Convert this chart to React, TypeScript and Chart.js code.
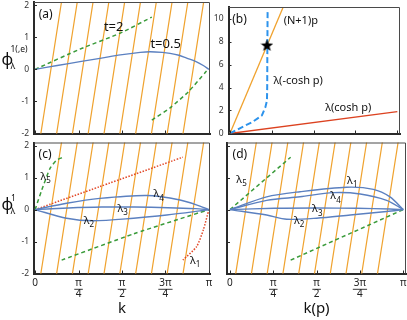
import React, { useEffect, useRef } from 'react';
import { Chart, registerables } from 'chart.js';
Chart.register(...registerables);

const W = 407;
const H = 320;
const PI = Math.PI;
const FONT = "'Noto Sans', 'DejaVu Sans', sans-serif";

// ---------- tick values / labels ----------
const kTickValues = [0, PI / 4, PI / 2, (3 * PI) / 4, PI];
const kTickLabels: (string | string[])[] = ['0', ['π', '4'], ['π', '2'], ['3π', '4'], 'π'];
const phiTickValues = [-2, -1, 0, 1, 2];
const phiTickLabels = ['-2', '-1', '0', '1', '2'];
const lamTickValues = [0, 2, 4, 6, 8, 10];
const lamTickLabels = ['0', '2', '4', '6', '8', '10'];

// ---------- orange quantisation lines: slope (N+1) and zero crossings ----------
const orangeSlope = 11;
const orangeZeroK = [0.286, 0.571, 0.857, 1.142, 1.428, 1.714, 2.0, 2.285, 2.57, 2.856];

// ---------- panel (a) ----------
const aBlueK = [0, 0.4, 0.81, 1.2, 1.54, 1.9, 2.08, 2.3, 2.44, 2.6, 2.74, 2.9, 3.04, PI];
const aBluePhi = [0, 0.12, 0.24, 0.35, 0.45, 0.53, 0.55, 0.53, 0.5, 0.44, 0.35, 0.25, 0.12, 0];
const aGreenUpK = [0, 0.81, 1.54, 2.11];
const aGreenUpPhi = [0, 0.63, 1.13, 1.63];
const aGreenLoK = [2.11, 2.44, 2.77, 3.09, PI];
const aGreenLoPhi = [-1.58, -1.2, -0.7, -0.07, 0];

// ---------- panel (b) ----------
const bOrangeP = [0, 1.0];
const bOrangeLam = [0, 11];
const bRedP = [0, PI];
const bRedLam = [0, 1.9];
const bBlueP = [0, 0.24, 0.42, 0.6, 0.665, 0.695, 0.7, 0.702, 0.707];
const bBlueLam = [0, 0.58, 1.0, 1.57, 2.28, 2.85, 4.26, 7.1, 10.64];
const bStarP = [0.695];
const bStarLam = [7.66];

// ---------- panel (c) ----------
const cGreenUpK = [0, 0.12, 0.27, 0.39, 0.51];
const cGreenUpPhi = [0, 0.61, 1.29, 1.55, 1.64];
const cGreenLoK = [0.48, 1.78, PI];
const cGreenLoPhi = [-1.58, -0.76, 0];
const cRedUpK = [0, 1.17, 2.67];
const cRedUpPhi = [0, 0.72, 1.64];
const cRedLoK = [2.67, 2.92, 3.04, PI];
const cRedLoPhi = [-1.58, -1.16, -0.64, 0];
const cL4K = [0, 0.57, 1.17, 2.02, 2.62, 2.98, PI];
const cL4Phi = [0, 0.2, 0.35, 0.44, 0.3, 0.11, 0];
const cL3K = [0, 0.6, 1.2, 1.8, 2.4, 2.9, PI];
const cL3Phi = [0, 0.05, 0.08, 0.08, 0.06, 0.03, 0];
const cL2K = [0, 0.57, 1.05, 1.78, 2.38, 2.98, PI];
const cL2Phi = [0, -0.27, -0.35, -0.27, -0.17, -0.04, 0];

// ---------- panel (d) ----------
const dGreenUpK = [0, 1.1];
const dGreenUpPhi = [0, 1.64];
const dGreenLoK = [1.1, PI];
const dGreenLoPhi = [-1.58, 0];
const dL1K = [0, 0.665, 1.27, 2.115, 2.6, 2.9, PI];
const dL1Phi = [0, 0.4, 0.56, 0.7, 0.635, 0.4, 0];
const dL4K = [0, 0.665, 1.27, 1.87, 2.36, 2.84, PI];
const dL4Phi = [0, 0.29, 0.4, 0.53, 0.49, 0.29, 0];
const dL3K = [0, 0.8, 1.57, 2.3, 2.9, PI];
const dL3Phi = [0, 0.04, 0.05, 0.04, 0.02, 0];
const dL2K = [0, 0.665, 1.03, 1.57, 2.18, 2.84, PI];
const dL2Phi = [0, -0.17, -0.3, -0.27, -0.17, -0.06, 0];

// ---------- styles ----------
const ORANGE = '#f0a22e';
const BLUE = '#5b80c0';
const GREEN = '#3a9b3a';
const RED = '#e24a2a';
const RED_SOLID = '#dc4220';
const BLUE_DASH = '#2d93ec';
const AXIS = '#2a2a2a';
const TEXT = '#111';
const X_TICK_PAD = 4.5;
const X_TICK_SIZE = 10;
const X_TICK_LH = 1.08;

type Pt = { x: number; y: number };
const zip = (xs: number[], ys: number[]): Pt[] => xs.map((x, i) => ({ x, y: ys[i] }));

function ln(data: Pt[], color: string, width: number, dash: number[] = [], order = 0, tension = 0.3) {
  return {
    data,
    showLine: true,
    borderColor: color,
    backgroundColor: color,
    borderWidth: width,
    borderDash: dash,
    pointRadius: 0,
    pointHoverRadius: 0,
    tension,
    order,
    fill: false,
  };
}

function orangeLines(yMin: number, yMax: number) {
  return orangeZeroK.map((k0) =>
    ln(
      [
        { x: k0 + (yMin - 0.3) / orangeSlope, y: yMin - 0.3 },
        { x: k0 + (yMax + 0.3) / orangeSlope, y: yMax + 0.3 },
      ],
      ORANGE,
      1.2,
      [],
      10,
      0
    )
  );
}

interface Lbl { k: number; v: number; text: string; size: number; sub?: string }
interface TitlePart { x: number; y: number; text: string; size: number }

interface Panel {
  left: number; right: number; top: number; bottom: number;
  xMin: number; xMax: number; yMin: number; yMax: number;
  xTickText: (string | string[])[] | null;
  xTitle: string | null;
  yTickValues: number[];
  yTickText: string[] | null;
  datasets: () => any[];
  labels: Lbl[];
  yTitle: TitlePart[];
}

function makeStar(): HTMLCanvasElement {
  const c = document.createElement('canvas');
  c.width = 13; c.height = 13;
  const g = c.getContext('2d')!;
  g.fillStyle = '#000';
  g.beginPath();
  for (let i = 0; i < 10; i++) {
    const r = i % 2 === 0 ? 6.5 : 2.7;
    const a = -PI / 2 + (i * PI) / 5;
    const x = 6.5 + r * Math.cos(a);
    const y = 6.8 + r * Math.sin(a);
    if (i === 0) g.moveTo(x, y); else g.lineTo(x, y);
  }
  g.closePath();
  g.fill();
  return c;
}

const PANELS: Panel[] = [
  {
    left: 34, right: 210, top: 2, bottom: 133.5,
    xMin: -0.02, xMax: PI + 0.02, yMin: -2, yMax: 2.1,
    xTickText: null, xTitle: null,
    yTickValues: phiTickValues, yTickText: phiTickLabels,
    datasets: () => [
      ln(zip(aBlueK, aBluePhi), BLUE, 1.4),
      ln(zip(aGreenUpK, aGreenUpPhi), GREEN, 1.5, [4, 3], 0, 0.2),
      ln(zip(aGreenLoK, aGreenLoPhi), GREEN, 1.5, [4, 3], 0, 0.2),
      ...orangeLines(-2, 2.1),
    ],
    labels: [
      { k: 0.19, v: 1.7, text: '(a)', size: 12 },
      { k: 1.42, v: 1.32, text: 't=2', size: 13 },
      { k: 2.36, v: 0.79, text: 't=0.5', size: 13 },
    ],
    yTitle: [
      { x: 1.5, y: 60, text: 'ϕ', size: 16 },
      { x: 10.5, y: 66, text: 'λ', size: 9 },
      { x: 10.5, y: 50, text: '1(,e)', size: 8.5 },
    ],
  },
  {
    left: 228.5, right: 406, top: 4, bottom: 133.5,
    xMin: -0.027, xMax: PI + 0.05, yMin: 0, yMax: 11,
    xTickText: null, xTitle: null,
    yTickValues: lamTickValues, yTickText: lamTickLabels,
    datasets: () => [
      {
        data: zip(bStarP, bStarLam), showLine: false, pointStyle: makeStar(),
        pointRadius: 6, pointHoverRadius: 6, order: -1,
      },
      ln(zip(bBlueP, bBlueLam), BLUE_DASH, 2, [6, 3], 1, 0),
      ln(zip(bRedP, bRedLam), RED_SOLID, 1.4, [], 2, 0),
      ln(zip(bOrangeP, bOrangeLam), ORANGE, 1.3, [], 3, 0),
    ],
    labels: [
      { k: 0.18, v: 9.9, text: '(b)', size: 12 },
      { k: 1.33, v: 9.81, text: '(N+1)p', size: 11 },
      { k: 1.28, v: 4.55, text: 'λ(-cosh p)', size: 11 },
      { k: 2.22, v: 2.25, text: 'λ(cosh p)', size: 11 },
    ],
    yTitle: [],
  },
  {
    left: 34, right: 210, top: 142.5, bottom: 273.5,
    xMin: -0.02, xMax: PI + 0.02, yMin: -2, yMax: 2.1,
    xTickText: kTickLabels, xTitle: 'k',
    yTickValues: phiTickValues, yTickText: phiTickLabels,
    datasets: () => [
      ln(zip(cL4K, cL4Phi), BLUE, 1.4),
      ln(zip(cL3K, cL3Phi), BLUE, 1.4),
      ln(zip(cL2K, cL2Phi), BLUE, 1.4),
      ln(zip(cGreenUpK, cGreenUpPhi), GREEN, 1.5, [4, 3], 0, 0.2),
      ln(zip(cGreenLoK, cGreenLoPhi), GREEN, 1.5, [4, 3], 0, 0.2),
      ln(zip(cRedUpK, cRedUpPhi), RED, 1.5, [1.5, 1.5], 0, 0.2),
      ln(zip(cRedLoK, cRedLoPhi), RED, 1.5, [1.5, 1.5], 0, 0.2),
      ...orangeLines(-2, 2.1),
    ],
    labels: [
      { k: 0.18, v: 1.71, text: '(c)', size: 12 },
      { k: 0.148, v: 1.03, text: 'λ', sub: '5', size: 11 },
      { k: 2.19, v: 0.49, text: 'λ', sub: '4', size: 11 },
      { k: 1.54, v: 0.025, text: 'λ', sub: '3', size: 11 },
      { k: 0.93, v: -0.34, text: 'λ', sub: '2', size: 11 },
      { k: 2.85, v: -1.59, text: 'λ', sub: '1', size: 11 },
    ],
    yTitle: [
      { x: 1.5, y: 205, text: 'ϕ', size: 16 },
      { x: 10.5, y: 211, text: 'λ', size: 9 },
      { x: 11, y: 198.5, text: '1', size: 8.5 },
    ],
  },
  {
    left: 227, right: 406, top: 142.5, bottom: 273.5,
    xMin: -0.054, xMax: PI + 0.049, yMin: -2, yMax: 2.1,
    xTickText: kTickLabels, xTitle: 'k(p)',
    yTickValues: phiTickValues, yTickText: null,
    datasets: () => [
      ln(zip(dL1K, dL1Phi), BLUE, 1.4),
      ln(zip(dL4K, dL4Phi), BLUE, 1.4),
      ln(zip(dL3K, dL3Phi), BLUE, 1.4),
      ln(zip(dL2K, dL2Phi), BLUE, 1.4),
      ln(zip(dGreenUpK, dGreenUpPhi), GREEN, 1.5, [4, 3], 0, 0),
      ln(zip(dGreenLoK, dGreenLoPhi), GREEN, 1.5, [4, 3], 0, 0),
      ...orangeLines(-2, 2.1),
    ],
    labels: [
      { k: 0.18, v: 1.71, text: '(d)', size: 12 },
      { k: 0.167, v: 0.94, text: 'λ', sub: '5', size: 11 },
      { k: 2.175, v: 0.91, text: 'λ', sub: '1', size: 11 },
      { k: 1.87, v: 0.43, text: 'λ', sub: '4', size: 11 },
      { k: 1.54, v: 0.02, text: 'λ', sub: '3', size: 11 },
      { k: 1.21, v: -0.34, text: 'λ', sub: '2', size: 11 },
    ],
    yTitle: [],
  },
];

function decorPlugin(p: Panel, idx: number) {
  return {
    id: 'decor' + idx,
    afterDraw(chart: any) {
      const ctx: CanvasRenderingContext2D = chart.ctx;
      const ca = chart.chartArea;
      const xs = chart.scales.x;
      const ys = chart.scales.y;
      ctx.save();
      // top & right frame
      ctx.strokeStyle = '#4a4a4a';
      ctx.lineWidth = 1;
      ctx.beginPath();
      ctx.moveTo(ca.left, ca.top + 0.5);
      ctx.lineTo(ca.right - 0.5, ca.top + 0.5);
      ctx.lineTo(ca.right - 0.5, ca.bottom);
      ctx.stroke();
      // inward tick marks
      ctx.strokeStyle = AXIS;
      ctx.beginPath();
      for (const t of xs.ticks) {
        const px = Math.round(xs.getPixelForValue(t.value)) + 0.5;
        ctx.moveTo(px, ca.bottom);
        ctx.lineTo(px, ca.bottom - 3);
      }
      for (const t of ys.ticks) {
        const py = Math.round(ys.getPixelForValue(t.value)) + 0.5;
        ctx.moveTo(ca.left, py);
        ctx.lineTo(ca.left + 3, py);
      }
      ctx.stroke();
      // fraction bars under numerators of x tick labels
      if (p.xTickText) {
        ctx.font = `${X_TICK_SIZE}px ${FONT}`;
        const yBar = xs.top + X_TICK_PAD + X_TICK_SIZE * X_TICK_LH + 0.5;
        ctx.strokeStyle = '#222';
        ctx.lineWidth = 0.9;
        ctx.beginPath();
        p.xTickText.forEach((lab, i) => {
          if (Array.isArray(lab)) {
            const px = xs.getPixelForValue(kTickValues[i]);
            const w = ctx.measureText(lab[0]).width + 2;
            ctx.moveTo(px - w / 2, yBar);
            ctx.lineTo(px + w / 2, yBar);
          }
        });
        ctx.stroke();
      }
      // in-plot labels
      ctx.fillStyle = TEXT;
      ctx.textBaseline = 'middle';
      for (const l of p.labels) {
        const x = xs.getPixelForValue(l.k);
        const y = ys.getPixelForValue(l.v);
        ctx.font = `${l.size}px ${FONT}`;
        ctx.textAlign = 'center';
        ctx.fillText(l.text, x, y);
        if (l.sub) {
          const w = ctx.measureText(l.text).width;
          ctx.font = `${Math.round(l.size * 0.72)}px ${FONT}`;
          ctx.textAlign = 'left';
          ctx.fillText(l.sub, x + w / 2 + 0.2, y + l.size * 0.4);
        }
      }
      // y axis title
      ctx.textAlign = 'left';
      for (const t of p.yTitle) {
        ctx.font = `${t.size}px ${FONT}`;
        ctx.fillText(t.text, t.x, t.y);
      }
      ctx.restore();
    },
  };
}

function buildConfig(p: Panel, idx: number): any {
  return {
    type: 'scatter',
    data: { datasets: p.datasets() },
    options: {
      responsive: false,
      maintainAspectRatio: false,
      animation: false,
      devicePixelRatio: 1,
      events: [],
      layout: { padding: { left: 0, top: p.top, right: W - p.right, bottom: 0 } },
      plugins: { legend: { display: false }, tooltip: { enabled: false } },
      scales: {
        x: {
          type: 'linear',
          position: 'bottom',
          min: p.xMin,
          max: p.xMax,
          afterBuildTicks: (s: any) => {
            s.ticks = kTickValues.map((v) => ({ value: v }));
          },
          afterFit: (s: any) => {
            s.height = H - p.bottom;
            s.paddingLeft = 0; s.paddingRight = 0; s.paddingTop = 0; s.paddingBottom = 0;
          },
          grid: { display: false, drawTicks: false, tickLength: 0 },
          border: { display: true, color: AXIS, width: 2 },
          ticks: {
            display: !!p.xTickText,
            autoSkip: false,
            maxRotation: 0,
            minRotation: 0,
            padding: X_TICK_PAD,
            color: '#222',
            font: { family: FONT, size: X_TICK_SIZE, lineHeight: X_TICK_LH },
            callback: (_v: any, i: number) => (p.xTickText ? p.xTickText[i] : ''),
          },
          title: {
            display: !!p.xTitle,
            text: p.xTitle || '',
            color: TEXT,
            font: { family: FONT, size: 15, lineHeight: 1.2 },
            padding: { top: 0, bottom: 2 },
          },
        },
        y: {
          type: 'linear',
          position: 'left',
          min: p.yMin,
          max: p.yMax,
          afterBuildTicks: (s: any) => {
            s.ticks = p.yTickValues.map((v) => ({ value: v }));
          },
          afterFit: (s: any) => {
            s.width = p.left;
            s.paddingLeft = 0; s.paddingRight = 0; s.paddingTop = 0; s.paddingBottom = 0;
          },
          grid: { display: false, drawTicks: false, tickLength: 0 },
          border: { display: true, color: AXIS, width: 2 },
          ticks: {
            display: !!p.yTickText,
            padding: 5,
            color: '#333',
            font: { family: FONT, size: 8.5 },
            callback: (_v: any, i: number) => (p.yTickText ? p.yTickText[i] : ''),
          },
        },
      },
    },
    plugins: [decorPlugin(p, idx)],
  };
}

export default function App() {
  const refs = useRef<(HTMLCanvasElement | null)[]>([]);
  useEffect(() => {
    const charts = PANELS.map((p, i) => new Chart(refs.current[i]!, buildConfig(p, i)));
    return () => charts.forEach((c) => c.destroy());
  }, []);
  return (
    <div style={{ position: 'absolute', left: 0, top: 0, width: W, height: H, background: '#fff', overflow: 'hidden' }}>
      {PANELS.map((_, i) => (
        <canvas
          key={i}
          ref={(el) => { refs.current[i] = el; }}
          width={W}
          height={H}
          style={{ position: 'absolute', left: 0, top: 0, width: W, height: H }}
        />
      ))}
    </div>
  );
}
